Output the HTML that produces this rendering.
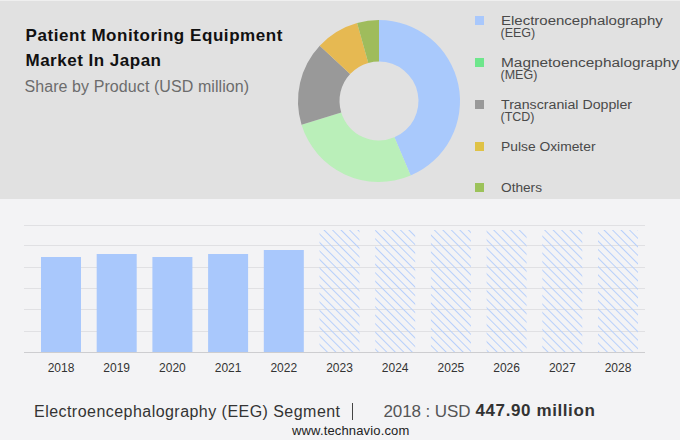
<!DOCTYPE html>
<html><head><meta charset="utf-8"><style>
html,body{margin:0;padding:0;}
body{width:680px;height:440px;position:relative;overflow:hidden;background:#f3f3f5;font-family:"Liberation Sans",sans-serif;}
.top{position:absolute;left:0;top:1px;width:680px;height:198px;background:#e1e1e1;}
.t{position:absolute;white-space:nowrap;line-height:1;}
.title{left:25.5px;font-size:17px;font-weight:bold;color:#111;}
.sub{left:24.5px;font-size:16px;color:#6c6c6c;}
.lg{position:absolute;left:475px;width:9px;height:9px;}
.lt{position:absolute;left:500.5px;font-size:12.5px;color:#4a4a4a;white-space:nowrap;line-height:12.5px;transform-origin:0 0;}
.yr{position:absolute;top:361.8px;width:60px;text-align:center;font-size:12px;line-height:1;color:#333;}
svg{position:absolute;left:0;top:0;}
</style></head><body>
<div style="position:absolute;left:0;top:0;width:680px;height:1px;background:#efefef"></div>
<div class="top"></div>
<div class="t title" style="top:26.9px;letter-spacing:0.56px">Patient Monitoring Equipment</div>
<div class="t title" style="top:51.9px;letter-spacing:0.5px">Market In Japan</div>
<div class="t sub" style="top:78.9px;letter-spacing:0.08px">Share by Product (USD million)</div>
<svg width="680" height="440" viewBox="0 0 680 440">
<defs>
<pattern id="hatch" patternUnits="userSpaceOnUse" width="6.0" height="6.0" patternTransform="rotate(-45)">
<rect x="0" y="0" width="1" height="6.0" fill="#b8d0fb"/>
</pattern>
</defs>
<path d="M379.00,20.00 A81,81 0 0 1 410.65,175.56 L394.43,137.36 A39.5,39.5 0 0 0 379.00,61.50 Z" fill="#a9c9fc"/>
<path d="M410.65,175.56 A81,81 0 0 1 301.54,124.68 L341.23,112.55 A39.5,39.5 0 0 0 394.43,137.36 Z" fill="#baefb9"/>
<path d="M301.54,124.68 A81,81 0 0 1 319.76,45.76 L350.11,74.06 A39.5,39.5 0 0 0 341.23,112.55 Z" fill="#999999"/>
<path d="M319.76,45.76 A81,81 0 0 1 357.08,23.02 L368.31,62.97 A39.5,39.5 0 0 0 350.11,74.06 Z" fill="#e6b952"/>
<path d="M357.08,23.02 A81,81 0 0 1 379.00,20.00 L379.00,61.50 A39.5,39.5 0 0 0 368.31,62.97 Z" fill="#9fbc5c"/>
<rect x="24" y="225" width="621" height="1" fill="#e0e0e3"/><rect x="24" y="245" width="621" height="1" fill="#e0e0e3"/><rect x="24" y="267" width="621" height="1" fill="#e0e0e3"/><rect x="24" y="288" width="621" height="1" fill="#e0e0e3"/><rect x="24" y="309" width="621" height="1" fill="#e0e0e3"/><rect x="24" y="331" width="621" height="1" fill="#e0e0e3"/>
<rect x="24" y="352" width="621" height="1" fill="#cdcdd0"/>
<rect x="41.0" y="257" width="40" height="95" fill="#a9c8fc"/><rect x="96.7" y="254" width="40" height="98" fill="#a9c8fc"/><rect x="152.4" y="257" width="40" height="95" fill="#a9c8fc"/><rect x="208.1" y="254" width="40" height="98" fill="#a9c8fc"/><rect x="263.8" y="250" width="40" height="102" fill="#a9c8fc"/><rect x="319.5" y="230" width="40" height="122" fill="url(#hatch)"/><rect x="375.2" y="230" width="40" height="122" fill="url(#hatch)"/><rect x="430.9" y="230" width="40" height="122" fill="url(#hatch)"/><rect x="486.6" y="230" width="40" height="122" fill="url(#hatch)"/><rect x="542.3" y="230" width="40" height="122" fill="url(#hatch)"/><rect x="598.0" y="230" width="40" height="122" fill="url(#hatch)"/>
</svg>
<div class="lg" style="top:16px;background:#a9c8fc"></div>
<div class="lt" style="top:14.52px;transform:scaleX(1.200);">Electroencephalography</div>
<div class="lt" style="top:27.32px;">(EEG)</div>
<div class="lg" style="top:58px;background:#6ee68c"></div>
<div class="lt" style="top:56.52px;transform:scaleX(1.232);">Magnetoencephalography</div>
<div class="lt" style="top:69.32px;">(MEG)</div>
<div class="lg" style="top:100px;background:#999999"></div>
<div class="lt" style="top:98.52px;transform:scaleX(1.134);">Transcranial Doppler</div>
<div class="lt" style="top:111.32px;">(TCD)</div>
<div class="lg" style="top:142px;background:#dfc246"></div>
<div class="lt" style="top:140.52px;transform:scaleX(1.106);">Pulse Oximeter</div>
<div class="lg" style="top:183px;background:#9cc25a"></div>
<div class="lt" style="top:181.52px;transform:scaleX(1.093);">Others</div>
<div class="yr" style="left:31.0px">2018</div><div class="yr" style="left:86.7px">2019</div><div class="yr" style="left:142.4px">2020</div><div class="yr" style="left:198.1px">2021</div><div class="yr" style="left:253.8px">2022</div><div class="yr" style="left:309.5px">2023</div><div class="yr" style="left:365.2px">2024</div><div class="yr" style="left:420.9px">2025</div><div class="yr" style="left:476.6px">2026</div><div class="yr" style="left:532.3px">2027</div><div class="yr" style="left:588.0px">2028</div>
<div class="t" style="left:34px;top:404.1px;font-size:16px;color:#333;letter-spacing:0.46px">Electroencephalography (EEG) Segment</div>
<div style="position:absolute;left:351.6px;top:403px;width:1.6px;height:17px;background:#444"></div>
<div class="t" style="left:383.5px;top:402.6px;font-size:17px;color:#555;letter-spacing:-0.1px">2018 : USD</div>
<div class="t" style="left:475.5px;top:402.4px;font-size:17px;font-weight:bold;color:#333;letter-spacing:0.6px">447.90 million</div>
<div class="t" style="left:292px;top:424.3px;font-size:13px;color:#222;letter-spacing:0.15px">www.technavio.com</div>
</body></html>
